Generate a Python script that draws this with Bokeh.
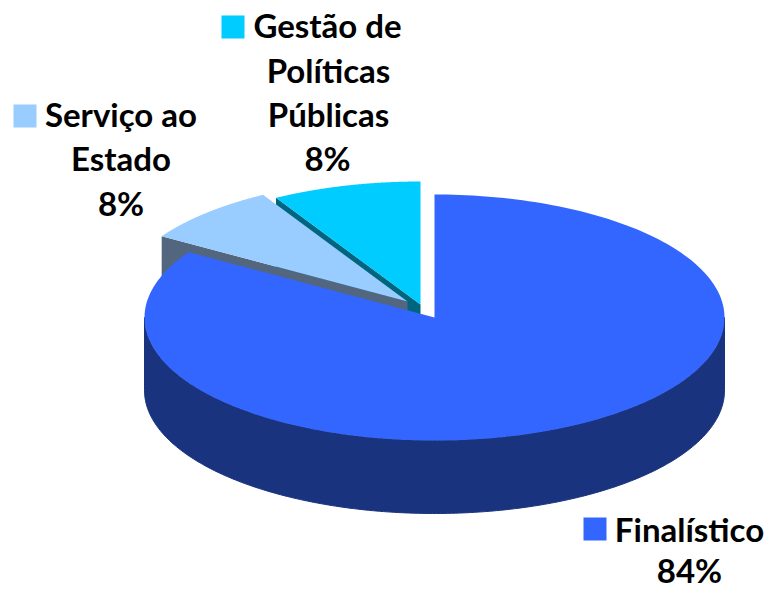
import numpy as np
from bokeh.plotting import figure
from bokeh.models import Range1d
from bokeh.core.properties import value
from bokeh.embed import file_html
from bokeh.resources import INLINE

categories = ["Finalístico", "Serviço ao Estado", "Gestão de Políticas Públicas"]
shares = [83.9, 7.8, 8.3]
percent_labels = ["84%", "8%", "8%"]
top_colors = ["#3366FF", "#99CCFF", "#00CCFF"]
wall_colors = ["#1A337F", "#52667F", "#006680"]

FONT = "Lato"
FONT_SIZE = "33px"
RX, RY, DEPTH = 290, 123, 73
CENTERS = [(434, 317), (407, 301), (420, 304)]
TEXT_SHIFT = 13  # the renderer sets this baseline lower than asked
LABELS = [
    dict(key=(594.5, 528.5), lines=[("Finalístico", 689, 541), ("84%", 689, 582)]),
    dict(key=(24.5, 115.5), lines=[("Serviço ao", 120.5, 126), ("Estado", 120.5, 170), ("8%", 120.5, 215)]),
    dict(key=(232.5, 26.5), lines=[("Gestão de", 327, 37), ("Políticas", 328, 82), ("Públicas", 328, 126), ("8%", 327, 170)]),
]

p = figure(width=768, height=590, output_backend="svg", toolbar_location=None,
           x_range=Range1d(0, 768), y_range=Range1d(590, 0),
           min_border=0, outline_line_color=None, border_fill_color="white")
p.xaxis.visible = False
p.yaxis.visible = False
p.grid.visible = False


def arc(c, a0, a1, dy=0.0):
    """Points of the tilted rim; angles clockwise from twelve o'clock, degrees."""
    t = np.radians(np.linspace(a0, a1, 240))
    return c[0] + RX * np.sin(t), c[1] - RY * np.cos(t) + dy


# slice spans, starting at twelve o'clock and going clockwise
ends = np.cumsum(shares) / sum(shares) * 360.0
starts = np.concatenate(([0.0], ends[:-1]))

# painter's order: back slices first, front slice last
for i in [2, 1, 0]:
    c, a0, a1 = CENTERS[i], starts[i], ends[i]
    if i == 0:
        # outer wall: only the front half of the rim
        ax, ay = arc(c, 90, 270)
        bx, by = arc(c, 270, 90, DEPTH)
        p.patch(np.r_[ax, bx], np.r_[ay, by], fill_color=wall_colors[i], line_color=wall_colors[i], line_width=1)
    else:
        # wall seen along the leading cut, hidden lower down by what is drawn next
        ex, ey = arc(c, a0, a0)
        xs = [ex[0], c[0], c[0], ex[0]]
        ys = [ey[0], c[1], c[1] + DEPTH, ey[0] + DEPTH]
        p.patch(xs, ys, fill_color=wall_colors[i], line_color=None)
    rx, ry = arc(c, a0, a1)
    p.patch(np.r_[c[0], rx], np.r_[c[1], ry], fill_color=top_colors[i], line_color=None)

for i, lab in enumerate(LABELS):
    kx, ky = lab["key"]
    p.rect([kx], [ky], width=23, height=23, fill_color=top_colors[i], line_color=None)
    for txt, x, y in lab["lines"]:
        p.text([x], [y - TEXT_SHIFT], text=[txt], text_font=value(FONT), text_font_style="bold",
               text_font_size=FONT_SIZE, text_color="#000000",
               text_align="center", text_baseline="alphabetic")

open("out.html", "w").write(file_html(p, INLINE))
